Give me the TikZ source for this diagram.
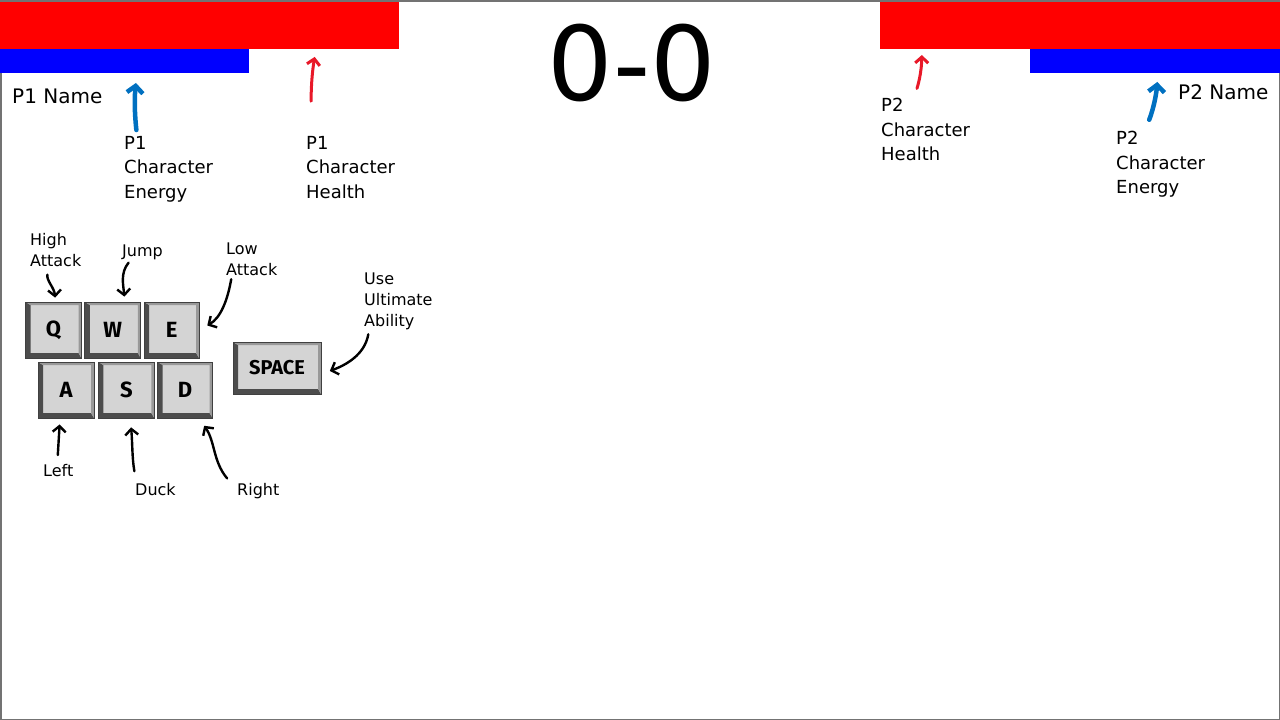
\documentclass[tikz,border=0pt]{standalone}
\usepackage{fontspec}
\setmainfont{DejaVu Sans}
\newfontfamily\keyfont{Fira Sans}
\usepackage{tikz}
\usetikzlibrary{arrows.meta}
\usetikzlibrary{positioning}

\definecolor{hpred}{RGB}{255,0,0}
\definecolor{enblue}{RGB}{0,0,255}
\definecolor{penblue}{RGB}{0,112,192}
\definecolor{penred}{RGB}{232,24,40}
\definecolor{keyface}{RGB}{212,212,212}

\tikzset{
    hudbar/.style={anchor=north west, inner sep=0, outer sep=0, draw=none},
    hudtext/.style={align=left, anchor=north west, inner sep=0, font=\fontsize{18}{24.5}\selectfont},
    keytext/.style={align=left, anchor=north west, inner sep=0, font=\fontsize{16}{21}\selectfont},
    keycap/.style={draw=black!75, line width=0.8pt, fill=keyface, inner sep=0,
        minimum width=56pt, minimum height=56pt,
        font=\keyfont\bfseries\fontsize{22}{22}\selectfont,
        path picture={
            \fill[black!70] (path picture bounding box.north west) -- ++(5pt,-3pt)
                -- ([shift={(5pt,5pt)}]path picture bounding box.south west)
                -- ([shift={(-3pt,5pt)}]path picture bounding box.south east)
                -- (path picture bounding box.south east)
                -- (path picture bounding box.south west) -- cycle;
            \fill[black!40] (path picture bounding box.north west) -- ++(5pt,-3pt)
                -- ([shift={(-3pt,-3pt)}]path picture bounding box.north east)
                -- ([shift={(-3pt,5pt)}]path picture bounding box.south east)
                -- (path picture bounding box.south east)
                -- (path picture bounding box.north east) -- cycle;
        }},
    bluepen/.style={draw=penblue, line width=4.5pt, line cap=round, -{Straight Barb[length=7pt,width=16pt]}},
    redpen/.style={draw=penred, line width=3pt, line cap=round, -{Straight Barb[length=6pt,width=13pt]}},
    inkpen/.style={draw=black, line width=2.4pt, line cap=round, -{Straight Barb[length=6pt,width=13pt]}}
}

\begin{document}
\begin{tikzpicture}[x=1pt,y=-1pt]
    \useasboundingbox (0,0) rectangle (1280,720);
    \draw[black!55, line width=1.5pt] (0.75,0.75) rectangle (1279.25,719.25);

    % health and energy bars
    \node[hudbar, fill=hpred, minimum width=399pt, minimum height=47pt] (p1health) at (0,2) {};
    \node[hudbar, fill=enblue, minimum width=249pt, minimum height=24pt] (p1energy) at (0,49) {};
    \node[hudbar, fill=hpred, minimum width=400pt, minimum height=47pt] (p2health) at (880,2) {};
    \node[hudbar, fill=enblue, minimum width=250pt, minimum height=24pt] (p2energy) at (1030,49) {};

    % score
    \node[inner sep=0, font=\fontsize{103}{103}\selectfont] (score) at (632,63) {0-0};

    % player labels
    \node[anchor=west, inner sep=0, font=\fontsize{20}{20}\selectfont] (p1name) at (12,96) {P1 Name};
    \node[anchor=west, inner sep=0, font=\fontsize{20}{20}\selectfont] (p2name) at (1178,92) {P2 Name};
    \node[hudtext] (p1en) at (124,136) {P1\\Character\\Energy};
    \node[hudtext] (p1hl) at (306,136) {P1\\Character\\Health};
    \node[hudtext] (p2hl) at (881,98) {P2\\Character\\Health};
    \node[hudtext] (p2en) at (1116,131) {P2\\Character\\Energy};

    \draw[bluepen, shorten <=6pt, shorten >=10pt] ([xshift=13pt]p1en.north west)
        to[bend left=6] ([xshift=137pt]p1energy.south west);
    \draw[redpen, shorten <=36pt, shorten >=8pt] ([xshift=14pt]p1hl.north west)
        to[bend left=12] ([xshift=316pt]p1health.south west);
    \draw[redpen, shorten <=10pt, shorten >=6pt] ([xshift=33pt]p2hl.north west)
        to[bend right=8] ([xshift=42pt]p2health.south west);
    \draw[bluepen, shorten <=12pt, shorten >=9pt] ([xshift=29pt]p2en.north west)
        to[bend right=8] ([xshift=128pt]p2energy.south west);

    % controls
    \node[keycap] (q) at (53.5,330) {Q};
    \node[keycap, right=2.5pt of q] (w) {W};
    \node[keycap, right=2.5pt of w, minimum width=55pt] (e) {E};
    \node[keycap] (a) at (66,390) {A};
    \node[keycap, right=3.5pt of a] (s) {S};
    \node[keycap, right=2.5pt of s, minimum width=55pt] (d) {D};
    \node[keycap, minimum width=88pt, minimum height=52pt, font=\keyfont\bfseries\fontsize{20}{20}\selectfont] (space) at (277,368) {SPACE};

    \node[keytext] (highatk) at (30,233) {High\\Attack};
    \node[keytext] (jump) at (122,245) {Jump};
    \node[keytext] (lowatk) at (226,243) {Low\\Attack};
    \node[keytext] (ult) at (364,273) {Use\\Ultimate\\Ability};
    \node[keytext] (left) at (43,464) {Left};
    \node[keytext] (duck) at (135,483) {Duck};
    \node[keytext] (right) at (237,483) {Right};

    \draw[inkpen, shorten <=8pt, shorten >=4pt] ([xshift=-7pt]highatk.south)
        to[out=-100, in=95] ([xshift=2pt]q.north);
    \draw[inkpen, shorten <=3pt, shorten >=5pt] ([xshift=-12pt]jump.south)
        to[out=-130, in=95] ([xshift=12pt]w.north);
    \draw[inkpen, shorten <=3pt, shorten >=9pt] ([xshift=-20pt]lowatk.south)
        to[out=-100, in=30] (e.east);
    \draw[inkpen, shorten <=4pt, shorten >=9pt] ([xshift=5pt]ult.south west)
        to[out=-100, in=20] ([yshift=-6pt]space.east);
    \draw[inkpen, shorten <=9pt, shorten >=6pt] ([xshift=-1pt]left.north)
        -- ([xshift=-6pt]a.south);
    \draw[inkpen, shorten <=12pt, shorten >=9pt] ([xshift=-19pt]duck.north)
        to[out=100, in=-85] ([xshift=4pt]s.south);
    \draw[inkpen, shorten <=6pt, shorten >=9pt] ([shift={(-6pt,0pt)}]right.north west)
        to[out=130, in=-55] ([xshift=-14pt]d.south east);
\end{tikzpicture}
\end{document}
